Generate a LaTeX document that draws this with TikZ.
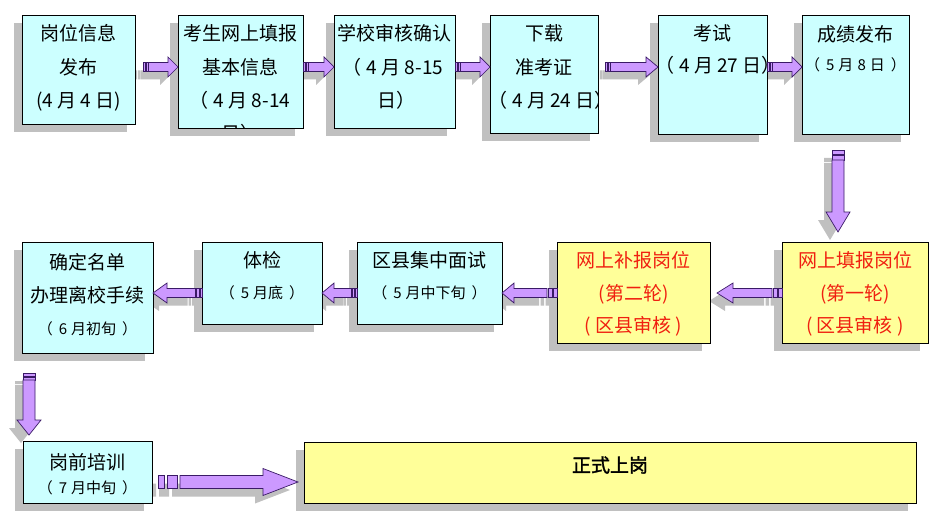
\documentclass[tikz,border=0pt]{standalone}
\usepackage{fontspec}
\setmainfont{Noto Sans CJK SC}
\newfontfamily\boldcjk{Noto Sans CJK SC}[FakeBold=1.5]
\usetikzlibrary{calc,backgrounds}
\definecolor{boxcyan}{HTML}{CCFFFF}
\definecolor{boxyel}{HTML}{FFFF99}
\definecolor{shadowc}{HTML}{C0C0C0}
\definecolor{arrfill}{HTML}{CC99FF}
\definecolor{arrline}{HTML}{3A1A66}
\definecolor{redtext}{HTML}{F02010}
\newcommand\pgap{\hspace{6pt}}
\newcommand\bgap{\hspace{5pt}}
\tikzset{
 box/.style={draw=black, line width=0.9pt, anchor=north west, inner sep=0pt, outer sep=0pt},
 cyanbox/.style={box, fill=boxcyan},
 yelbox/.style={box, fill=boxyel},
 big/.style={font=\fontsize{19}{19}\selectfont, inner sep=0pt, text height=16.7pt, text depth=2.3pt},
 small/.style={font=\fontsize{15}{15}\selectfont, inner sep=0pt, text height=13.2pt, text depth=1.8pt},
 boldt/.style={font=\fontsize{19}{19}\selectfont\boldcjk, inner sep=0pt, text height=16.7pt, text depth=2.3pt},
 redt/.style={text=redtext},
 arrowbody/.style={fill=arrfill, draw=arrline, line width=0.7pt, line join=miter},
 arrowshadow/.style={fill=shadowc},
}
% #1 from, #2 to, #3 shaft half width, #4 head half width, #5 head length,
% #6 stripe1 end, #7 stripe2 start, #8 stripe2 end, #9 shaft start
\newcommand\blockarrow[9]{%
 \path (#1) coordinate (baS) (#2) coordinate (baE);
 \pgfpointdiff{\pgfpointanchor{baS}{center}}{\pgfpointanchor{baE}{center}}%
 \pgfgetlastxy{\baX}{\baY}%
 \pgfmathsetmacro\baL{veclen(\baX,\baY)}%
 \pgfmathsetmacro\baA{atan2(\baY,\baX)}%
 \begin{pgfonlayer}{background}
  \begin{scope}[shift={($(baS)+(-8pt,-8pt)$)}, rotate=\baA, x=1pt, y=1pt]
   \fill[arrowshadow] (0,-#3) rectangle (#6,#3) (#7,-#3) rectangle (#8,#3)
     (#9,-#3) -- (\baL-#5,-#3) -- (\baL-#5,-#4) -- (\baL,0) -- (\baL-#5,#4) -- (\baL-#5,#3) -- (#9,#3) -- cycle;
  \end{scope}
 \end{pgfonlayer}
 \begin{scope}[shift={(baS)}, rotate=\baA, x=1pt, y=1pt]
   \path[arrowbody] (0,-#3) rectangle (#6,#3);
   \path[arrowbody] (#7,-#3) rectangle (#8,#3);
   \path[arrowbody] (#9,-#3) -- (\baL-#5,-#3) -- (\baL-#5,-#4) -- (\baL,0) -- (\baL-#5,#4) -- (\baL-#5,#3) -- (#9,#3) -- cycle;
 \end{scope}
}
\begin{document}
\begin{tikzpicture}[x=1pt,y=-1pt]
\begin{pgfonlayer}{background}
\fill[white] (0,0) rectangle (937,524);
\end{pgfonlayer}
\useasboundingbox (0,0) rectangle (937,524);

% boxes
\node[cyanbox, minimum width=113, minimum height=109] (b1) at (22,15) {};
\node[cyanbox, minimum width=125, minimum height=113] (b2) at (178,15) {};
\node[cyanbox, minimum width=121, minimum height=113] (b3) at (334,15) {};
\node[cyanbox, minimum width=108, minimum height=118] (b4) at (490,15) {};
\node[cyanbox, minimum width=109, minimum height=119] (b5) at (658,15) {};
\node[cyanbox, minimum width=107, minimum height=119] (b6) at (802,15) {};
\node[cyanbox, minimum width=131, minimum height=111] (b7) at (22,242) {};
\node[cyanbox, minimum width=120, minimum height=82] (b8) at (202,242) {};
\node[cyanbox, minimum width=145, minimum height=82] (b9) at (357,242) {};
\node[yelbox, minimum width=153, minimum height=101] (b10) at (557,242) {};
\node[yelbox, minimum width=146, minimum height=101] (b11) at (782,242) {};
\node[cyanbox, minimum width=129, minimum height=62] (b12) at (23,441) {};
\node[yelbox, minimum width=612, minimum height=61] (b13) at (304,442) {};

% box shadows
\begin{pgfonlayer}{background}
\foreach \b in {b1,b2,b3,b4,b5,b6,b7,b8,b9,b10,b11,b12,b13}
  \fill[shadowc] ([shift={(-8,8)}]\b.north west) rectangle ([shift={(-8,8)}]\b.south east);
\end{pgfonlayer}

% texts
\node[big] (t1a) at (78.5,33) {岗位信息};
\node[big] (t1b) at (78.5,67) {发布};
\node[big] (t1c) at (78.5,100) {(4 月 4 日)};
\begin{scope}
\clip (b2.north west) rectangle (b2.south east);
\node[big] (t2a) at (240.5,33) {考生网上填报};
\node[big] (t2b) at (240.5,67) {基本信息};
\node[big] (t2c) at (240,100) {（\bgap 4 月 8-14};
\node[big] (t2d) at (240.5,133) {日）};
\end{scope}
\node[big] (t3a) at (394.5,33) {学校审核确认};
\node[big] (t3b) at (393,67) {（\bgap 4 月 8-15};
\node[big] (t3c) at (396,100) {日）};
\begin{scope}
\clip (b4.north west) rectangle (b4.south east);
\node[big] (t4a) at (544,33) {下载};
\node[big] (t4b) at (544,67) {准考证};
\node[big, anchor=west] (t4c) at (488,100) {（\bgap 4 月 24 日）};
\end{scope}
\begin{scope}
\clip (b5.north west) rectangle (b5.south east);
\node[big] (t5a) at (712.5,33) {考试};
\node[big, anchor=west] (t5b) at (655,65) {（\bgap 4 月 27 日）};
\end{scope}
\node[big] (t6a) at (855.5,34) {成绩发布};
\node[small] (t6b) at (855.5,65) {（\pgap 5\hspace{4pt}月\hspace{4pt}8\hspace{4pt}日\pgap）};
\node[big] (t7a) at (87.5,262) {确定名单};
\node[big] (t7b) at (87.5,295) {办理离校手续};
\node[small] (t7c) at (87.5,329) {（\pgap 6\hspace{4pt}月初旬\pgap）};
\node[big] (t8a) at (262,260) {体检};
\node[small] (t8b) at (262,293) {（\pgap 5\hspace{4pt}月底\pgap）};
\node[big] (t9a) at (429.5,260) {区县集中面试};
\node[small] (t9b) at (429.5,293) {（\pgap 5\hspace{4pt}月中下旬\pgap）};
\node[big, redt] (t10a) at (633.5,260) {网上补报岗位};
\node[big, redt] (t10b) at (633.5,293) {(第二轮)};
\node[big, redt] (t10c) at (633.5,325) {( 区县审核 )};
\node[big, redt] (t11a) at (855,260) {网上填报岗位};
\node[big, redt] (t11b) at (855,293) {(第一轮)};
\node[big, redt] (t11c) at (855,325) {( 区县审核 )};
\node[big] (t12a) at (87.5,462) {岗前培训};
\node[small] (t12b) at (87.5,488) {（\pgap 7\hspace{4pt}月中旬\pgap）};
\node[boldt] (t13a) at (610,465) {正式上岗};

% arrow rows
\coordinate (r1) at (0,67);
\coordinate (r2) at (0,293);
\coordinate (r3) at (0,482);

\blockarrow{$(b1.east|-r1)+(8,0)$}{b2.west|-r1}{4.5}{10}{10}{2}{3}{5}{5.5}
\blockarrow{b2.east|-r1}{b3.west|-r1}{4.5}{10}{10}{2}{3}{5}{5.5}
\blockarrow{b3.east|-r1}{b4.west|-r1}{4.5}{10}{10}{2}{3}{5}{5.5}
\blockarrow{$(b4.east|-r1)+(7,0)$}{b5.west|-r1}{4.5}{10}{12}{2}{3}{5}{5.5}
\blockarrow{b5.east|-r1}{b6.west|-r1}{4.5}{10}{10}{2}{3}{5}{5.5}

\blockarrow{b11.west|-r2}{$(b10.east|-r2)+(7,0)$}{4.5}{10}{16}{3.5}{5}{8.5}{10}
\blockarrow{b10.west|-r2}{b9.east|-r2}{4.5}{10}{12}{3.5}{5}{8.5}{10}
\blockarrow{b9.west|-r2}{b8.east|-r2}{4.5}{10}{12}{2}{3}{5}{5.5}
\blockarrow{b8.west|-r2}{b7.east|-r2}{4.5}{10}{14}{2}{3}{5.5}{6.5}

\coordinate (d1s) at ($(b6.south)+(-17.5,16)$);
\coordinate (d1e) at ($(d1s|-b11.north)+(0,-10)$);
\blockarrow{d1s}{d1e}{6}{12}{20}{4}{5}{10}{10}
\coordinate (d2s) at ($(b7.south west)+(7,20)$);
\coordinate (d2e) at ($(d2s|-b12.north)+(0,-6)$);
\blockarrow{d2s}{d2e}{6}{12}{15}{3}{4}{7}{7}

\blockarrow{$(b12.east|-r3)+(6,0)$}{$(b13.west|-r3)+(-6,0)$}{6.5}{13.5}{35}{6}{9}{19}{22}
\end{tikzpicture}
\end{document}
